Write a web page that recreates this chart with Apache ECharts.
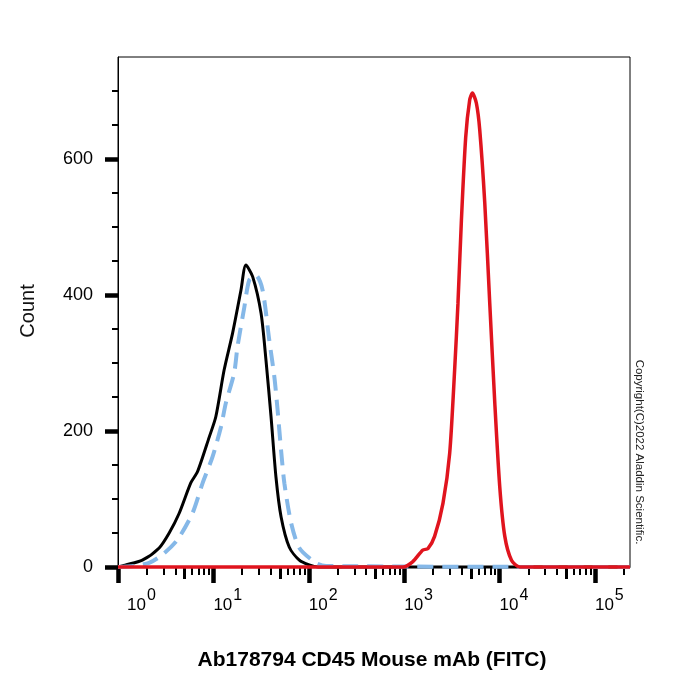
<!DOCTYPE html>
<html>
<head>
<meta charset="utf-8">
<title>Ab178794 CD45 Mouse mAb (FITC)</title>
<script src="https://cdn.jsdelivr.net/npm/echarts@6.0.0/dist/echarts.min.js"></script>
<style>
  html, body { margin: 0; padding: 0; background: #fff; }
  #chart { width: 700px; height: 700px; }
</style>
</head>
<body>
<div id="chart"></div>
<script>
// blank control (black solid line)
var blankX = [1, 1.2, 1.8, 2.7, 3.44, 4.38, 5.81, 6.81, 9.04, 10.6, 12.97, 15.9, 19.45, 21.9, 25.8, 31.6, 35.6, 40.2, 45.3, 51.2, 62.5, 79.6, 101, 125, 233000]
var blankY = [0, 3, 10, 28, 50, 79, 124, 140, 191, 221, 290, 344, 407, 444, 427, 373, 304, 221, 132, 74, 29, 10, 3, 0, 0]

// isotype control (light blue dashed line)
var isotypeX = [1, 1.47, 2.12, 2.92, 4.2, 6.03, 7.69, 9.79, 12.0, 13.5, 16.5, 17.9, 21.1, 23.8, 27.9, 32.8, 38.5, 43.6, 47.1, 51.2, 55.5, 65.2, 79.6, 119, 152, 233000]
var isotypeY = [0, 1.5, 6, 18, 40, 79, 123, 162, 206, 241, 285, 324, 382, 422, 429, 407, 334, 279, 231, 172, 123, 65, 28, 6, 1.5, 0]

// CD45 FITC stained (red line)
var stainedX = [1, 968, 1233, 1570, 1774, 2084, 2553, 2999, 3381, 3664, 3981, 4416, 4864, 5188, 5715, 6194, 6998, 7889, 8913, 10046, 11350, 13335, 16293, 233000]
var stainedY = [0, 0, 8, 25, 27, 45, 94, 167, 290, 388, 510, 632, 687, 697, 682, 643, 535, 388, 241, 118, 45, 10, 0, 0]

var xDecades = [1, 10, 100, 1000, 10000, 100000]
var xMax = 233000
var yMajorTicks = [0, 200, 400, 600]
var yMinorTicks = [50, 100, 150, 250, 300, 350, 450, 500, 550, 650, 700]

function zip(xs, ys) {
  return xs.map(function (x, i) { return [x, ys[i]] })
}

// 2..9 and 5 ticks inside each decade
var xMinorTicks = []
var xHalfTicks = []
xDecades.forEach(function (d) {
  for (var k = 2; k <= 9; k++) {
    if (d * k > xMax) break
    if (k === 5) xHalfTicks.push(d * k)
    else xMinorTicks.push(d * k)
  }
})

var font = 'Liberation Sans, Arial, sans-serif'
var chart = echarts.init(document.getElementById('chart'))

function logAxis(extra) {
  return Object.assign({
    type: 'log',
    logBase: 10,
    min: 1,
    max: xMax,
    position: 'bottom',
    axisLine: { show: false },
    axisLabel: { show: false },
    splitLine: { show: false },
    minorTick: { show: false }
  }, extra)
}

chart.setOption({
  animation: false,
  backgroundColor: '#fff',
  grid: {
    left: 118,
    top: 57,
    right: 70,
    bottom: 133,
    show: true,
    borderColor: '#000',
    borderWidth: 1
  },
  xAxis: [
    logAxis({
      axisLine: { show: true, onZero: false, lineStyle: { color: '#000', width: 1 } },
      axisTick: { show: true, customValues: xDecades, length: 16, lineStyle: { color: '#000', width: 4.5 } },
      axisLabel: {
        show: true,
        customValues: xDecades,
        margin: 21,
        align: 'left',
        color: '#000',
        fontFamily: font,
        formatter: function (v) {
          var e = Math.round(Math.log10(v))
          return (e === 0 ? '{f|10}' : '{b|10}') + '{sup|' + e + '}'
        },
        rich: {
          b: { fontSize: 17, lineHeight: 34, fontFamily: font, color: '#000' },
          f: { fontSize: 17, lineHeight: 34, fontFamily: font, color: '#000', padding: [0, 0, 0, 9] },
          sup: { fontSize: 16, lineHeight: 16, verticalAlign: 'top', fontFamily: font, color: '#000', padding: [0, 0, 0, 1] }
        }
      }
    }),
    logAxis({
      axisTick: { show: true, customValues: xMinorTicks, length: 8, lineStyle: { color: '#000', width: 2 } }
    }),
    logAxis({
      axisTick: { show: true, customValues: xHalfTicks, length: 12, lineStyle: { color: '#000', width: 3 } }
    })
  ],
  yAxis: [
    {
      type: 'value',
      min: 0,
      max: 750,
      axisLine: { show: true, lineStyle: { color: '#000', width: 1 } },
      axisTick: { show: true, customValues: yMajorTicks, length: 13, lineStyle: { color: '#000', width: 4.5 } },
      axisLabel: {
        customValues: yMajorTicks,
        margin: 25,
        color: '#000',
        fontSize: 18,
        fontFamily: font
      },
      splitLine: { show: false }
    },
    {
      type: 'value',
      min: 0,
      max: 750,
      position: 'left',
      axisLine: { show: false },
      axisTick: { show: true, customValues: yMinorTicks, length: 6, lineStyle: { color: '#000', width: 2 } },
      axisLabel: { show: false },
      splitLine: { show: false }
    }
  ],
  series: [
    {
      type: 'line',
      data: zip(blankX, blankY),
      showSymbol: false,
      smooth: 0.25,
      clip: false,
      lineStyle: { color: '#000', width: 3 }
    },
    {
      type: 'line',
      data: zip(isotypeX, isotypeY),
      showSymbol: false,
      smooth: 0.25,
      clip: false,
      lineStyle: { color: '#85B8E8', width: 4, type: [16, 9] }
    },
    {
      type: 'line',
      data: zip(stainedX, stainedY),
      showSymbol: false,
      smooth: 0.25,
      clip: false,
      lineStyle: { color: '#E0141E', width: 3.5 }
    }
  ],
  graphic: [
    {
      type: 'text',
      x: 28,
      y: 311,
      rotation: Math.PI / 2,
      style: { text: 'Count', fill: '#111', font: '20px ' + font, align: 'center', verticalAlign: 'middle' }
    },
    {
      type: 'text',
      x: 372,
      y: 660,
      style: { text: 'Ab178794 CD45 Mouse mAb (FITC)', fill: '#000', font: 'bold 21px ' + font, align: 'center', verticalAlign: 'middle' }
    },
    {
      type: 'text',
      x: 639,
      y: 452,
      rotation: -Math.PI / 2,
      style: { text: 'Copyright(C)2022 Aladdin Scientific.', fill: '#222', font: '11.5px ' + font, align: 'center', verticalAlign: 'middle' }
    }
  ]
})
</script>
</body>
</html>
